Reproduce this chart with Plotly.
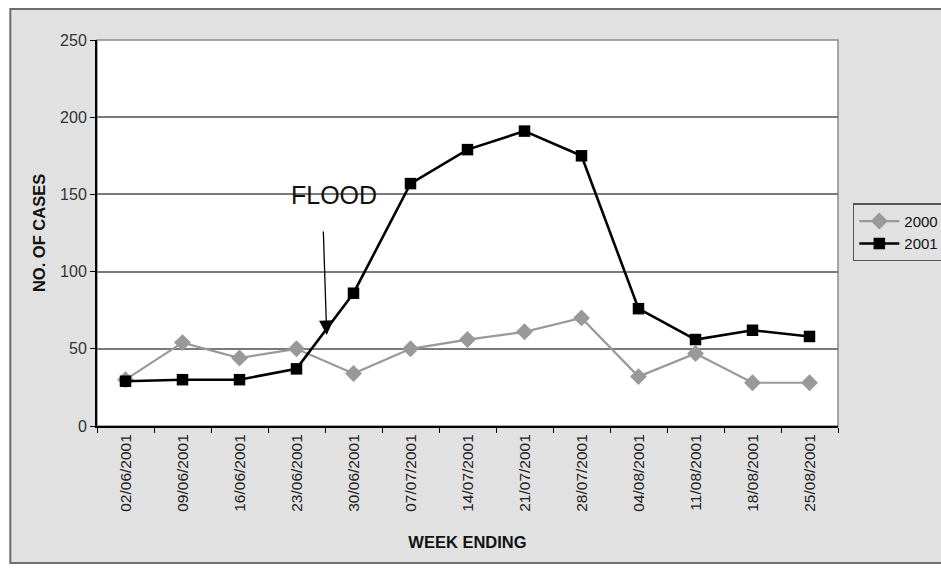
import plotly.graph_objects as go

# Weekly case counts
weeks = ["02/06/2001", "09/06/2001", "16/06/2001", "23/06/2001", "30/06/2001",
         "07/07/2001", "14/07/2001", "21/07/2001", "28/07/2001", "04/08/2001",
         "11/08/2001", "18/08/2001", "25/08/2001"]
cases_2000 = [30, 54, 44, 50, 34, 50, 56, 61, 70, 32, 47, 28, 28]
cases_2001 = [29, 30, 30, 37, 86, 157, 179, 191, 175, 76, 56, 62, 58]
y_ticks = [0, 50, 100, 150, 200, 250]

FONT = "Liberation Sans, Arial, sans-serif"
PANEL = "#e1e1e1"

fig = go.Figure()
fig.add_trace(go.Scatter(
    x=weeks, y=cases_2000, name="2000", mode="lines+markers",
    line=dict(color="#999999", width=2.2),
    marker=dict(symbol="diamond", size=13, color="#999999"),
))
fig.add_trace(go.Scatter(
    x=weeks, y=cases_2001, name="2001", mode="lines+markers",
    line=dict(color="#000000", width=2.6),
    marker=dict(symbol="square", size=11.5, color="#000000"),
))

# White strips outside the chart panel, then the panel border
for x0, x1, y0, y1 in [(-0.2, -0.117, -0.5, 1.2),
                       (-0.2, 1.5, 1.08, 1.2),
                       (-0.2, 1.5, -0.5, -0.355)]:
    fig.add_shape(type="rect", xref="paper", yref="paper",
                  x0=x0, x1=x1, y0=y0, y1=y1,
                  fillcolor="#ffffff", line=dict(width=0), layer="below")
fig.add_shape(type="rect", xref="paper", yref="paper",
              x0=-0.117, x1=1.35, y0=-0.355, y1=1.08,
              line=dict(color="#6e6e6e", width=2), layer="below")
# Plot-area frame (top and right edges)
fig.add_shape(type="rect", xref="x domain", yref="y domain",
              x0=0, x1=1, y0=0, y1=1,
              line=dict(color="#8a8a8a", width=1.5), layer="below")

# Flood marker
fig.add_annotation(x=3.53, y=59, ax=3.47, ay=127, xref="x", yref="y",
                   axref="x", ayref="y", text="", showarrow=True,
                   arrowhead=2, arrowsize=2.2, arrowwidth=1.3, arrowcolor="#000000")
fig.add_annotation(x=3.66, y=149.5, xref="x", yref="y", text="FLOOD",
                   showarrow=False, font=dict(family=FONT, size=25, color="#111111"))

fig.update_xaxes(
    type="category", range=[-0.5, 12.5], tickangle=-90,
    tickson="boundaries", ticks="outside", ticklen=5, tickcolor="#000000",
    showline=True, linecolor="#000000", linewidth=2, showgrid=False,
    tickfont=dict(family=FONT, size=15.5, color="#222222"),
    title=dict(text="<b>WEEK ENDING</b>", font=dict(family=FONT, size=16.5, color="#111111"),
               standoff=26),
)
fig.update_yaxes(
    range=[0, 250], tickvals=y_ticks, ticks="outside", ticklen=5, tickcolor="#000000",
    showline=True, linecolor="#000000", linewidth=2, zeroline=False,
    showgrid=True, gridcolor="#7a7a7a", gridwidth=1.5,
    tickfont=dict(family=FONT, size=16, color="#333333"),
    title=dict(text="<b>NO. OF CASES</b>", font=dict(family=FONT, size=16.5, color="#111111"),
               standoff=10),
)

fig.update_layout(
    width=941, height=572,
    margin=dict(l=97, r=103, t=40, b=146, autoexpand=False),
    paper_bgcolor=PANEL, plot_bgcolor="#ffffff",
    font=dict(family=FONT),
    showlegend=True,
    legend=dict(x=1.02, y=0.577, xanchor="left", yanchor="top",
                bgcolor=PANEL, bordercolor="#555555", borderwidth=1.5,
                font=dict(family=FONT, size=15, color="#111111"),
                tracegroupgap=0, itemwidth=40),
)

fig.write_html("out.html")
